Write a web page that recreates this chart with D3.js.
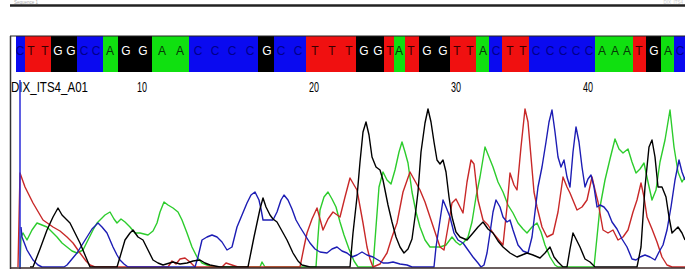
<!DOCTYPE html>
<html>
<head>
<meta charset="utf-8">
<script src="https://cdn.jsdelivr.net/npm/d3@7"></script>
<style>
  body { margin: 0; background: #fff; }
  svg { display: block; }
</style>
</head>
<body>
<div id="trace"></div>
<script>
// Base calls and where each peak sits (scan units)
const bases = "CTTGGCCAGGAACCCCGCCTTTGGTATGGTTACTTCCCCCAAATGAC".split("");
const basePos = [20, 31, 45, 58, 71, 84, 96, 110, 126, 143,
  162, 180, 198, 215, 232, 250, 267, 281, 298, 315,
  332, 349, 364, 378, 390, 399, 411, 427, 443, 457,
  470, 483, 496, 510, 523, 536, 550, 563, 576, 589,
  602, 615, 627, 639, 654, 668, 680];
const tickBases = [10, 20, 30, 40];
const tickLabels = ["10", "20", "30", "40"];
const sampleName = "DIX_ITS4_A01";

// Trace signal: [scan, intensity]
const traceT = [[18,0],[20,94],[25,80],[33,64],[43,47],[53,40],[60,36],[67,30],[73,24],[80,14],[86,6],[90,2],[95,0],
  [168,0],[172,6],[176,3],[180,8],[185,9],[190,5],[195,0],[222,0],[226,4],[232,2],[238,0],
  [300,0],[304,20],[307,34],[312,48],[317,59],[323,37],[328,48],[333,55],[340,50],[345,70],[350,89],[354,82],[357,77],
  [363,44],[367,20],[370,8],[373,0],[380,3],[387,14],[392,30],[397,44],[403,75],[410,95],[415,86],[420,77],[425,65],
  [430,50],[435,35],[440,20],[444,17],[448,40],[452,64],[456,68],[460,60],[463,54],[467,85],[471,107],[474,103],
  [478,67],[483,47],[488,42],[493,34],[498,28],[503,22],[507,60],[510,94],[514,82],[517,77],[521,120],[525,158],
  [528,145],[531,110],[534,75],[537,60],[542,40],[547,30],[553,33],[558,55],[563,90],[567,80],[570,74],[577,57],
  [582,60],[587,67],[592,90],[595,77],[598,65],[603,37],[608,34],[613,37],[618,27],[623,30],[628,37],[633,55],
  [637,67],[641,84],[644,70],[647,50],[652,38],[657,25],[662,10],[667,2],[672,0],[685,0]];

const traceG = [[30,0],[33,0],[40,18],[47,37],[53,50],[58,59],[62,52],[67,47],[70,44],[75,34],[80,24],[85,12],[90,0],
  [117,0],[120,10],[125,27],[130,34],[133,37],[138,30],[143,27],[148,17],[153,7],[158,4],[163,2],[173,5],[180,3],
  [187,4],[193,6],[200,7],[205,4],[210,2],[220,0],[248,0],[251,15],[254,30],[257,44],[260,58],[263,69],[266,60],
  [270,52],[273,48],[277,45],[282,36],[287,27],[293,14],[298,6],[302,2],[310,0],[350,0],[353,34],[357,70],[360,105],
  [363,135],[366,145],[369,132],[372,110],[376,100],[380,97],[383,87],[388,62],[392,45],[396,30],[400,20],[404,14],
  [408,18],[412,28],[415,50],[418,75],[421,115],[425,144],[428,158],[431,145],[434,125],[437,107],[440,103],[443,107],
  [446,95],[449,70],[452,50],[456,35],[460,30],[467,27],[473,34],[478,40],[483,45],[488,38],[493,34],[498,26],
  [503,20],[510,14],[517,10],[522,12],[527,14],[533,12],[540,9],[545,14],[550,20],[554,10],[558,5],[563,0],[567,0],
  [570,18],[573,34],[577,26],[580,20],[585,8],[590,5],[595,0],[637,0],[641,20],[645,80],[649,120],[652,127],
  [655,110],[658,80],[662,80],[666,70],[669,50],[672,34],[675,37],[678,40],[682,34],[685,27]];

const traceA = [[20,0],[21,30],[23,34],[27,27],[32,37],[37,44],[42,42],[47,40],[52,35],[57,30],[62,24],[67,20],[72,16],
  [77,14],[83,17],[88,27],[93,37],[97,44],[100,47],[105,52],[110,55],[114,48],[117,44],[121,48],[125,45],[130,40],
  [135,34],[140,34],[148,32],[153,36],[157,44],[160,55],[164,65],[168,62],[173,59],[178,55],[182,47],[187,34],
  [192,20],[197,10],[202,4],[207,2],[212,0],[260,0],[262,5],[265,0],[316,0],[318,30],[320,57],[324,70],[328,75],
  [332,68],[336,60],[340,45],[344,32],[349,18],[354,6],[358,0],[373,0],[376,40],[379,80],[383,95],[387,87],[391,83],
  [395,97],[399,115],[402,125],[405,115],[408,104],[412,75],[416,55],[420,40],[425,27],[430,20],[440,20],[446,22],
  [452,30],[456,25],[460,22],[464,25],[468,30],[472,45],[476,70],[480,90],[485,120],[489,110],[493,100],[498,85],
  [503,75],[508,62],[513,54],[518,44],[523,38],[527,34],[532,40],[537,44],[541,35],[545,22],[550,10],[555,2],
  [558,0],[594,0],[597,30],[600,60],[605,87],[610,108],[615,128],[619,118],[623,114],[628,118],[632,105],[636,94],
  [640,98],[644,104],[648,85],[652,67],[656,77],[660,105],[665,127],[670,157],[674,120],[678,95],[682,85],[685,90]];

const traceC = [[21,40],[22,30],[27,17],[33,7],[38,2],[42,0],[64,0],[67,2],[72,8],[77,14],[82,22],[87,30],[92,38],
  [98,44],[102,40],[107,34],[110,27],[113,20],[117,12],[120,7],[124,3],[128,0],[195,0],[198,10],[202,27],[207,30],
  [212,32],[217,30],[222,25],[227,17],[232,20],[237,40],[242,52],[247,64],[251,72],[255,75],[259,67],[261,58],
  [263,47],[268,47],[273,47],[277,55],[281,67],[284,72],[288,67],[292,58],[296,47],[300,40],[305,32],[310,24],
  [315,18],[320,15],[327,14],[332,18],[337,20],[342,16],[347,14],[352,10],[357,12],[362,15],[367,12],[373,10],
  [378,7],[383,4],[388,4],[393,5],[400,3],[407,2],[412,0],[434,0],[436,20],[439,40],[443,67],[446,60],[450,50],
  [454,34],[458,27],[463,24],[468,17],[473,10],[478,4],[481,0],[484,2],[487,14],[490,34],[493,55],[496,67],[500,60],
  [503,50],[507,45],[510,47],[513,37],[518,22],[523,16],[528,14],[532,30],[535,55],[538,80],[542,100],[546,125],
  [549,145],[552,157],[555,135],[558,110],[561,100],[564,107],[567,90],[570,80],[573,115],[576,140],[579,125],
  [582,100],[585,80],[588,88],[591,92],[594,80],[597,60],[600,62],[604,60],[608,55],[612,45],[617,38],[622,28],
  [627,20],[632,8],[636,7],[640,10],[645,12],[650,10],[655,7],[659,15],[663,22],[667,37],[671,60],[675,87],
  [679,107],[682,95],[685,87]];

const width = 685;
const height = 269;
const narrow = "Liberation Sans Narrow, Liberation Sans, Arial, sans-serif";

const baseFill = { A: "#10e010", C: "#0a0af0", G: "#000000", T: "#f01010" };
const letterFill = { A: "#063806", C: "#00008a", G: "#ffffff", T: "#3a0000" };
const traceColor = { A: "#2ccc2c", C: "#1c1cb4", G: "#000000", T: "#c82828" };

const svg = d3.select("#trace")
    .append("svg")
    .attr("width", width)
    .attr("height", height);

const x = d3.scaleLinear().domain([10, 685]).range([10, 685]);
const y = d3.scaleLinear().domain([0, 180]).range([267, 87]);

// header rule and faint title text
svg.append("text")
    .attr("x", 14).attr("y", 3.5)
    .attr("font-family", narrow)
    .attr("font-size", 4.5)
    .attr("fill", "#aaa")
    .text("Sequence 1");
svg.append("text")
    .attr("x", 683).attr("y", 3.5)
    .attr("text-anchor", "end")
    .attr("font-family", narrow)
    .attr("font-size", 4.5)
    .attr("fill", "#ccc")
    .text("DIX_ITS4");
svg.append("line")
    .attr("x1", 10).attr("x2", width)
    .attr("y1", 5.5).attr("y2", 5.5)
    .attr("stroke", "#222")
    .attr("stroke-width", 2.5);

// base call strip
const edges = basePos.map((p, i) => i === 0 ? p - 4 : (basePos[i - 1] + p) / 2);
edges.push(685);

const cells = svg.append("g").selectAll("g")
    .data(bases)
    .enter()
    .append("g");

cells.append("rect")
    .attr("x", (d, i) => Math.floor(x(edges[i])))
    .attr("width", (d, i) => Math.ceil(x(edges[i + 1])) - Math.floor(x(edges[i])) + 1)
    .attr("y", 36)
    .attr("height", 36)
    .attr("shape-rendering", "crispEdges")
    .attr("fill", d => baseFill[d]);

cells.append("text")
    .attr("x", (d, i) => x(basePos[i]))
    .attr("y", 55)
    .attr("text-anchor", "middle")
    .attr("font-family", narrow)
    .attr("font-size", 12)
    .attr("fill", d => letterFill[d])
    .text(d => d);

svg.append("line")
    .attr("x1", 10).attr("x2", width)
    .attr("y1", 36).attr("y2", 36)
    .attr("stroke", "#222")
    .attr("stroke-width", 1);

// sample name and position numbers
svg.append("text")
    .attr("x", 11).attr("y", 92)
    .attr("font-family", narrow)
    .attr("font-size", 15)
    .attr("textLength", 77)
    .attr("lengthAdjust", "spacingAndGlyphs")
    .attr("fill", "#000")
    .text(sampleName);

svg.append("g").selectAll("text")
    .data(tickBases)
    .enter()
    .append("text")
    .attr("x", d => x(basePos[d - 1]) - 6)
    .attr("y", 92)
    .attr("font-family", narrow)
    .attr("font-size", 15)
    .attr("textLength", 10)
    .attr("lengthAdjust", "spacingAndGlyphs")
    .attr("fill", "#000")
    .text((d, i) => tickLabels[i]);

// traces
const line = d3.line()
    .x(d => x(d[0]))
    .y(d => y(d[1]));

const traces = [
  { base: "A", values: traceA },
  { base: "T", values: traceT },
  { base: "C", values: traceC },
  { base: "G", values: traceG }
];

svg.append("g").selectAll("path")
    .data(traces)
    .enter()
    .append("path")
    .attr("d", d => line(d.values))
    .attr("fill", "none")
    .attr("stroke", d => traceColor[d.base])
    .attr("stroke-width", 1.4)
    .attr("stroke-linejoin", "round");

// start marker, frame and baseline
svg.append("line")
    .attr("x1", x(basePos[0])).attr("x2", x(basePos[0]))
    .attr("y1", 80).attr("y2", height)
    .attr("stroke", "#2a2ad8")
    .attr("stroke-width", 1.5);

svg.append("line")
    .attr("x1", 10.5).attr("x2", 10.5)
    .attr("y1", 36).attr("y2", height)
    .attr("stroke", "#333")
    .attr("stroke-width", 1.5);

svg.append("line")
    .attr("x1", 10).attr("x2", width)
    .attr("y1", 268).attr("y2", 268)
    .attr("stroke", "#3a2a2a")
    .attr("stroke-width", 1.5);
</script>
</body>
</html>
